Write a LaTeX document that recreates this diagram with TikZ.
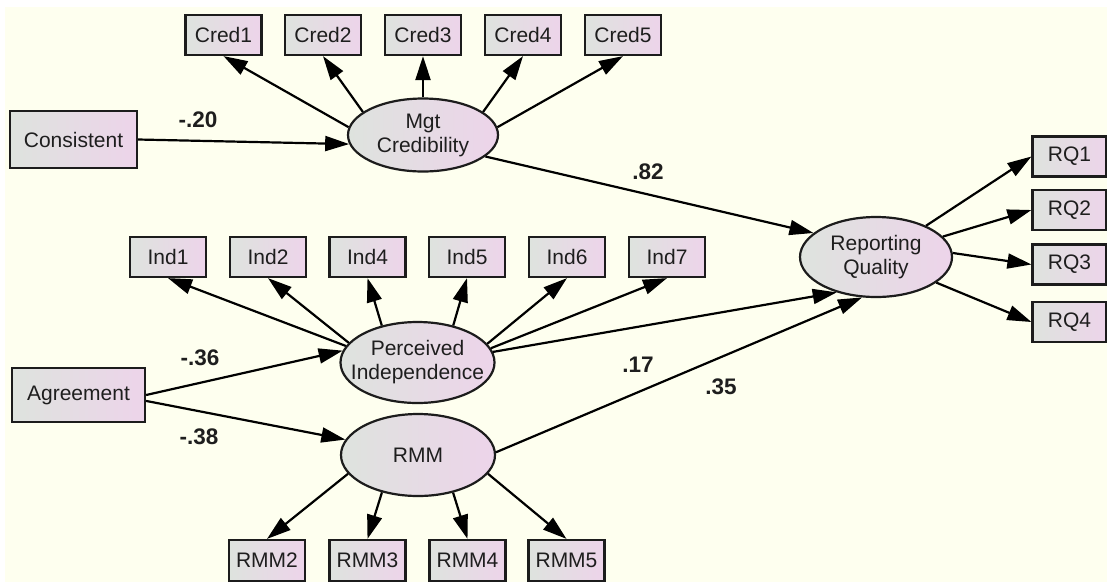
\documentclass[tikz,border=0pt]{standalone}
\usepackage{fontspec}
\setmainfont{Liberation Sans}
\usetikzlibrary{shapes.geometric,arrows.meta}

\definecolor{bgcream}{HTML}{FEFFEF}
\definecolor{fillgray}{HTML}{DEE3DE}
\definecolor{fillpink}{HTML}{EDD4EA}
\definecolor{inkline}{HTML}{1C1C1C}
\definecolor{inktext}{HTML}{1E1E1E}

\tikzset{
  base/.style={draw=inkline, line width=2.2pt, text=inktext, inner sep=0pt,
    left color=fillgray, right color=fillpink,
    font=\fontsize{21}{24}\selectfont, align=center},
  obs/.style={base, rectangle, minimum width=76pt, minimum height=40pt},
  % negative x padding keeps the wide labels from enlarging the ellipse
  lat/.style={base, ellipse, inner xsep=-30pt, inner ysep=-6pt,
    minimum width=152pt, minimum height=78pt},
  conn/.style={draw=black, line width=2.2pt,
    -{Triangle[length=24pt,width=15pt]}},
  coef/.style={font=\fontsize{22.5}{26}\selectfont\bfseries, text=inktext}
}

\begin{document}
\begin{tikzpicture}[x=1pt, y=-1pt]
  % canvas
  \fill[white] (0,0) rectangle (1107,582);
  \useasboundingbox (0,0) rectangle (1107,582);
  \fill[bgcream] (5,7) rectangle (1107,582);

  % exogenous observed variables
  \node[obs, minimum width=127pt, minimum height=57pt] (cons) at (73.5,139.5) {Consistent};
  \node[obs, minimum width=133pt, minimum height=54pt] (agr) at (78.5,395) {Agreement};

  % latent variables
  \node[lat, minimum width=150pt, minimum height=73pt] (mgt) at (423,135) {Mgt\\Credibility};
  \node[lat, minimum width=154pt, minimum height=81pt] (pi) at (417.5,362.5) {Perceived\\Independence};
  \node[lat, minimum width=154pt, minimum height=82pt] (rmm) at (418,455) {RMM};
  \node[lat, minimum width=152pt, minimum height=80pt] (rq) at (876,257) {Reporting\\Quality};

  % credibility indicators
  \node[obs] (cred1) at (223.5,35) {Cred1};
  \node[obs] (cred2) at (323,35) {Cred2};
  \node[obs] (cred3) at (423,35) {Cred3};
  \node[obs] (cred4) at (523,35) {Cred4};
  \node[obs] (cred5) at (623,35) {Cred5};

  % independence indicators
  \node[obs] (ind1) at (168,257) {Ind1};
  \node[obs] (ind2) at (268,257) {Ind2};
  \node[obs] (ind4) at (367.5,257) {Ind4};
  \node[obs] (ind5) at (467,257) {Ind5};
  \node[obs] (ind6) at (567,257) {Ind6};
  \node[obs] (ind7) at (667,257) {Ind7};

  % RMM indicators
  \node[obs, minimum height=41pt] (rmm2) at (267,560.5) {RMM2};
  \node[obs, minimum height=41pt] (rmm3) at (367.5,560.5) {RMM3};
  \node[obs, minimum height=41pt] (rmm4) at (467.5,560.5) {RMM4};
  \node[obs, minimum height=41pt] (rmm5) at (566.5,560.5) {RMM5};

  % reporting quality indicators
  \node[obs, minimum width=74pt] (rq1) at (1069.5,156.5) {RQ1};
  \node[obs, minimum width=74pt] (rq2) at (1069.5,210) {RQ2};
  \node[obs, minimum width=74pt] (rq3) at (1069.5,264.5) {RQ3};
  \node[obs, minimum width=74pt] (rq4) at (1069.5,322) {RQ4};

  % structural paths
  \draw[conn] (cons.east) -- (mgt.187);
  \draw[conn] (agr.east) -- (pi.171);
  \draw[conn] (agr.-5) -- (rmm.168);
  \draw[conn] (mgt.341) -- (rq.159);
  \draw[conn] (pi.8) -- (rq.222);
  \draw[conn] (rmm.2) -- (rq.251);

  % measurement paths
  \draw[conn] (mgt.174) -- (cred1.south);
  \draw[conn] (mgt.159) -- (cred2.south);
  \draw[conn] (mgt.90) -- (cred3.south);
  \draw[conn] (mgt.21) -- (cred4.south);
  \draw[conn] (mgt.6) -- (cred5.south);

  \draw[conn] (pi.167) -- (ind1.south);
  \draw[conn] (pi.164) -- (ind2.south);
  \draw[conn] (pi.134) -- (ind4.south);
  \draw[conn] (pi.46) -- (ind5.south);
  \draw[conn] (pi.15) -- (ind6.south);
  \draw[conn] (pi.11) -- (ind7.south);

  \draw[conn] (rmm.195) -- (rmm2.north);
  \draw[conn] (rmm.226) -- (rmm3.north);
  \draw[conn] (rmm.313) -- (rmm4.north);
  \draw[conn] (rmm.345) -- (rmm5.north);

  \draw[conn] (rq.32) -- (rq1.west);
  \draw[conn] (rq.17) -- (rq2.west);
  \draw[conn] (rq.3) -- (rq3.west);
  \draw[conn] (rq.337) -- (rq4.west);

  % path coefficients
  \node[coef] (c1) at (198,120) {-.20};
  \node[coef] (c2) at (648,172) {.82};
  \node[coef] (c3) at (200,358) {-.36};
  \node[coef] (c4) at (199,437) {-.38};
  \node[coef] (c5) at (638,365) {.17};
  \node[coef] (c6) at (721,387) {.35};
\end{tikzpicture}
\end{document}
